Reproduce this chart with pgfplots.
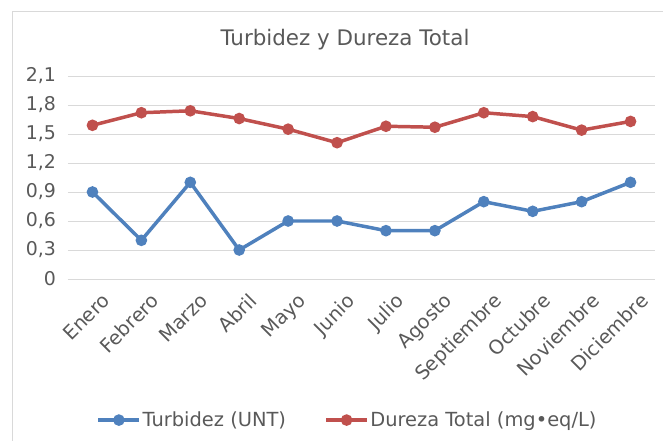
\documentclass[border=0pt]{standalone}
\usepackage{pgfplots}
\pgfplotsset{compat=1.18}
\usepackage{fontspec}
\setmainfont{DejaVu Sans}
\definecolor{txt}{HTML}{595959}
\definecolor{grd}{HTML}{D9D9D9}
\definecolor{cblue}{HTML}{4F81BD}
\definecolor{cred}{HTML}{C0504D}
\begin{document}
\begin{tikzpicture}
\useasboundingbox (-68bp,-162bp) rectangle (595bp,279bp);
\draw[grd, line width=1pt] (-56bp,-220bp) rectangle (700bp,267bp);
\node[txt,font=\fontsize{21.5}{24}\selectfont] at (277bp,239bp) {Turbidez y Dureza Total};
\begin{axis}[
  at={(0,0)}, anchor=south west,
  scale only axis, width=587bp, height=203bp,
  xmin=-0.5, xmax=11.5, ymin=0, ymax=2.1,
  xtick={0,...,11},
  xticklabels={Enero,Febrero,Marzo,Abril,Mayo,Junio,Julio,Agosto,Septiembre,Octubre,Noviembre,Diciembre},
  xticklabel style={rotate=45, anchor=north east, inner sep=1pt, xshift=-2pt, yshift=-14pt, font=\fontsize{19.5}{22}\selectfont},
  ytick={0,0.3,...,2.11},
  yticklabel style={xshift=-8.5pt, font=\fontsize{19}{22}\selectfont, /pgf/number format/.cd, use comma, fixed, precision=1},
  /pgf/number format/assume math mode=true,
  ticklabel style={text=txt},
  major tick length=0pt,
  axis line style={draw=none},
  ymajorgrids, grid style={grd, line width=0.8pt},
  legend style={at={(0.475,-0.695)}, anchor=center, draw=none, fill=none,
    font=\fontsize{19.5}{22}\selectfont, text=txt, inner sep=0pt,
    nodes={inner sep=0.5pt},
    /tikz/every odd column/.append style={column sep=1pt},
    /tikz/every even column/.append style={column sep=38pt}},
  legend columns=2,
  legend image code/.code={\draw[#1, mark repeat=2, mark phase=2] plot coordinates {(0bp,0bp) (20.5bp,0bp) (41bp,0bp)};},
]
\addplot[cblue, line width=3.5pt, mark=*, mark size=4pt] coordinates {
(0,0.9) (1,0.4) (2,1.0) (3,0.3) (4,0.6) (5,0.6) (6,0.5) (7,0.5) (8,0.8) (9,0.7) (10,0.8) (11,1.0)};
\addlegendentry{Turbidez (UNT)}
\addplot[cred, line width=3.5pt, mark=*, mark size=4pt] coordinates {
(0,1.59) (1,1.72) (2,1.74) (3,1.66) (4,1.55) (5,1.41) (6,1.58) (7,1.57) (8,1.72) (9,1.68) (10,1.54) (11,1.63)};
\addlegendentry{Dureza Total (mg•eq/L)}
\end{axis}
\end{tikzpicture}
\end{document}
